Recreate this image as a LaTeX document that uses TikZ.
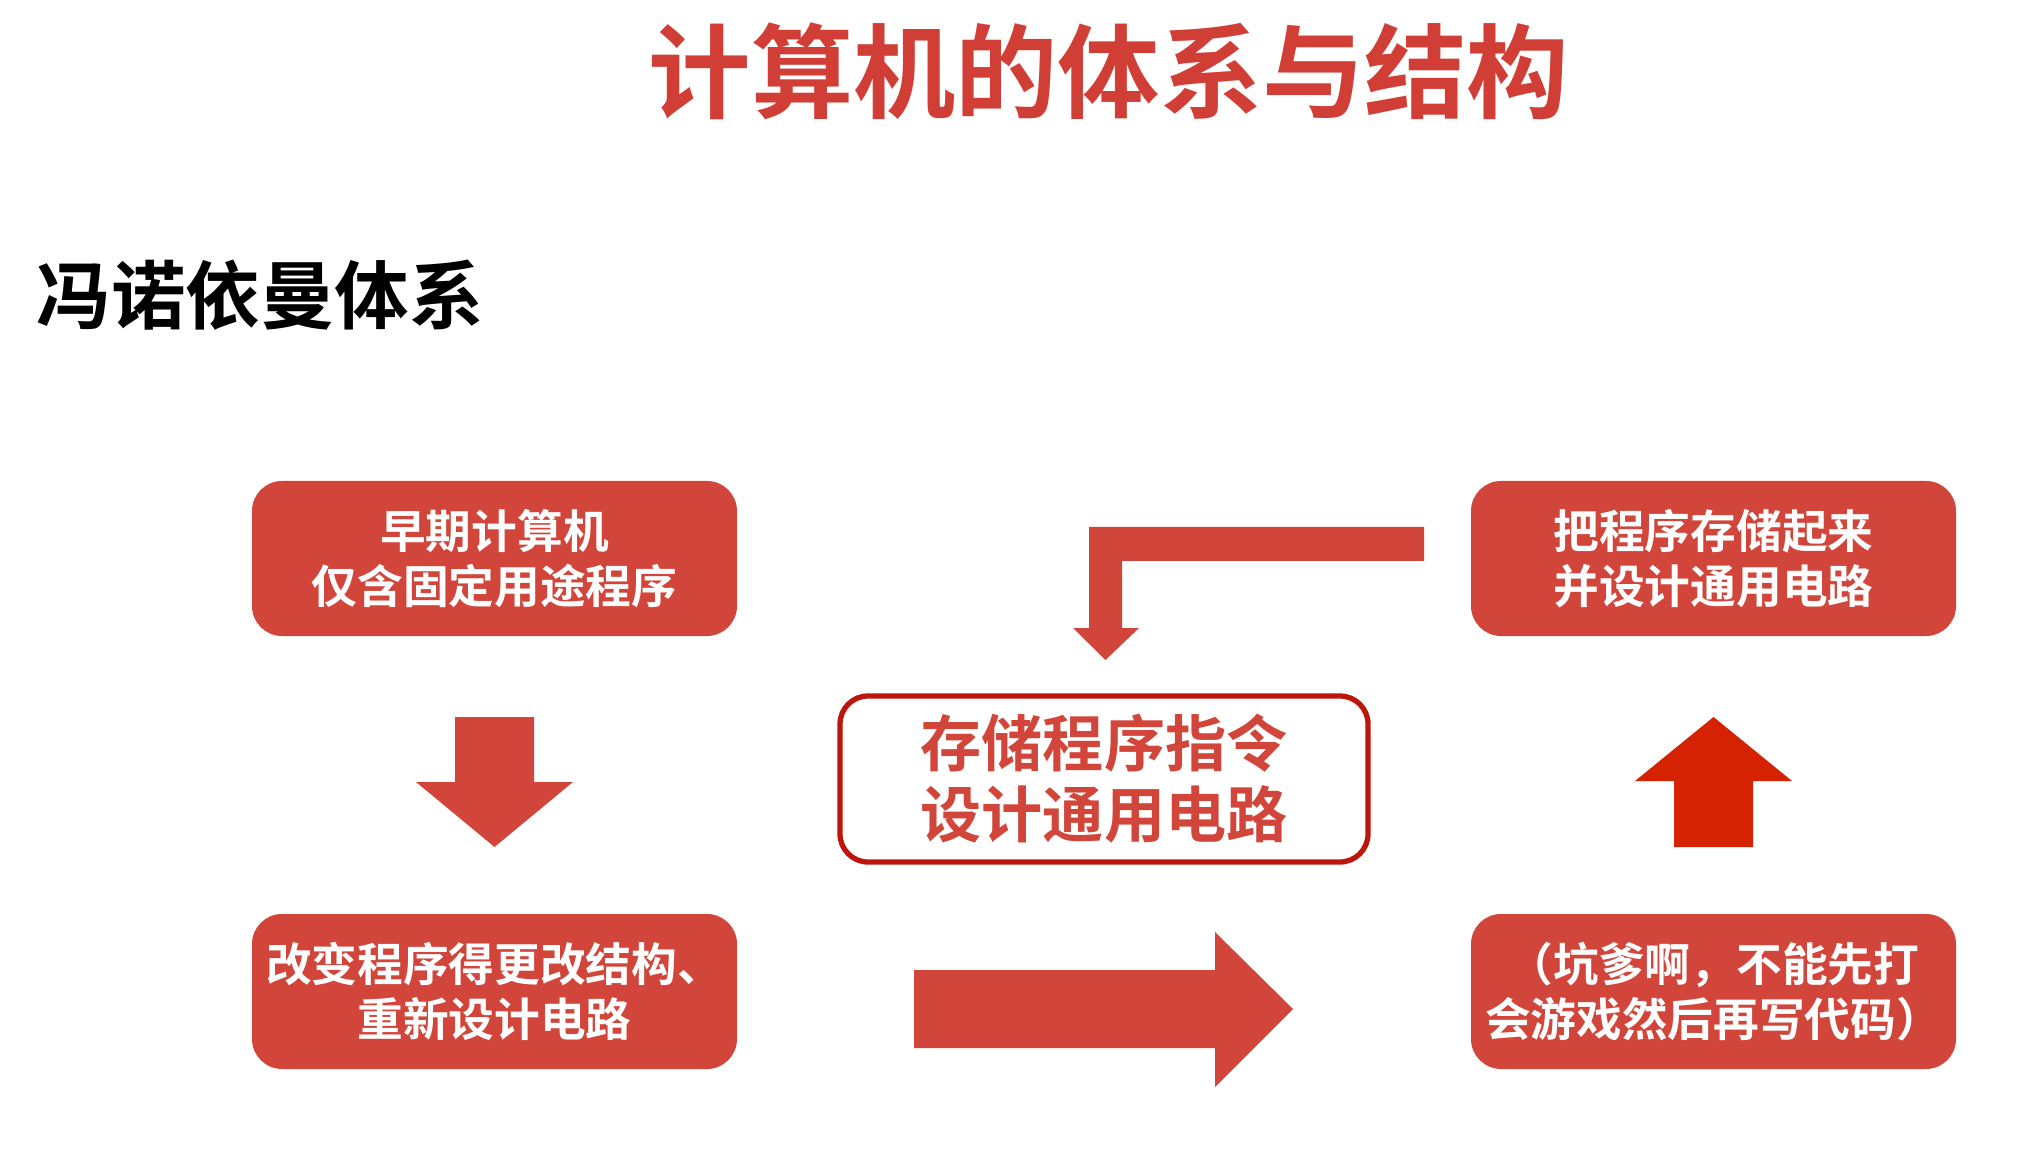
\documentclass[tikz,border=0pt]{standalone}
\usepackage{fontspec}
\setmainfont{Noto Sans CJK SC}[BoldFont={Noto Sans CJK SC Bold}]
\usepackage{xcolor}
\usepackage{tikz}
\usetikzlibrary{positioning}
\definecolor{slideRed}{RGB}{209,69,58}
\definecolor{titleRed}{RGB}{208,62,54}
\definecolor{borderRed}{RGB}{188,22,12}
\definecolor{upRed}{RGB}{212,34,2}
\tikzset{
  redbox/.style={fill=slideRed, rounded corners=0.3cm, minimum width=4.85cm,
    minimum height=1.55cm, align=center, text=white,
    font=\bfseries\fontsize{13}{15.6}\selectfont},
  keybox/.style={draw=borderRed, line width=1.5pt, fill=white, rounded corners=0.28cm,
    minimum width=5.28cm, minimum height=1.66cm, align=center, text=slideRed,
    font=\bfseries\fontsize{17.4}{20.2}\selectfont},
  blockarrow/.style={fill=slideRed}
}

\begin{document}
\begin{tikzpicture}
    \useasboundingbox (0,0) rectangle (20.27,11.57);

    % Title
    \node[font=\bfseries\fontsize{29.1}{32}\selectfont, text=titleRed] (title) at (11.09,10.86) {计算机的体系与结构};
    \node[font=\bfseries\fontsize{21.2}{24}\selectfont, anchor=west, inner sep=0pt] (subtitle) at (0.36,8.62) {冯诺依曼体系};

    % Boxes
    \node[redbox] (early) at (4.945,5.985) {早期计算机\\仅含固定用途程序};
    \node[redbox] (rewire) at (4.945,1.655) {改变程序得更改结构、\\重新设计电路};
    \node[redbox] (store) at (17.135,5.985) {把程序存储起来\\并设计通用电路};
    \node[redbox] (game) at (17.135,1.655) {（坑爹啊，不能先打\\会游戏然后再写代码）};

    % Key idea
    \node[keybox] (core) at (11.04,3.78) {存储程序指令\\设计通用电路};

    % Block arrows
    \fill[blockarrow] (4.55,4.40) -- (5.34,4.40) -- (5.34,3.75) -- (5.73,3.75)
        -- (4.945,3.10) -- (4.16,3.75) -- (4.55,3.75) -- cycle;
    \fill[blockarrow] (9.14,1.87) -- (12.15,1.87) -- (12.15,2.25) -- (12.93,1.48)
        -- (12.15,0.70) -- (12.15,1.09) -- (9.14,1.09) -- cycle;
    \fill[blockarrow, fill=upRed] (16.74,3.10) -- (16.74,3.76) -- (16.35,3.76) -- (17.135,4.40)
        -- (17.92,3.76) -- (17.53,3.76) -- (17.53,3.10) -- cycle;
    \fill[blockarrow] (14.24,6.30) -- (10.89,6.30) -- (10.89,5.29) -- (10.73,5.29)
        -- (11.055,4.97) -- (11.39,5.29) -- (11.22,5.29) -- (11.22,5.96) -- (14.24,5.96) -- cycle;

\end{tikzpicture}
\end{document}
